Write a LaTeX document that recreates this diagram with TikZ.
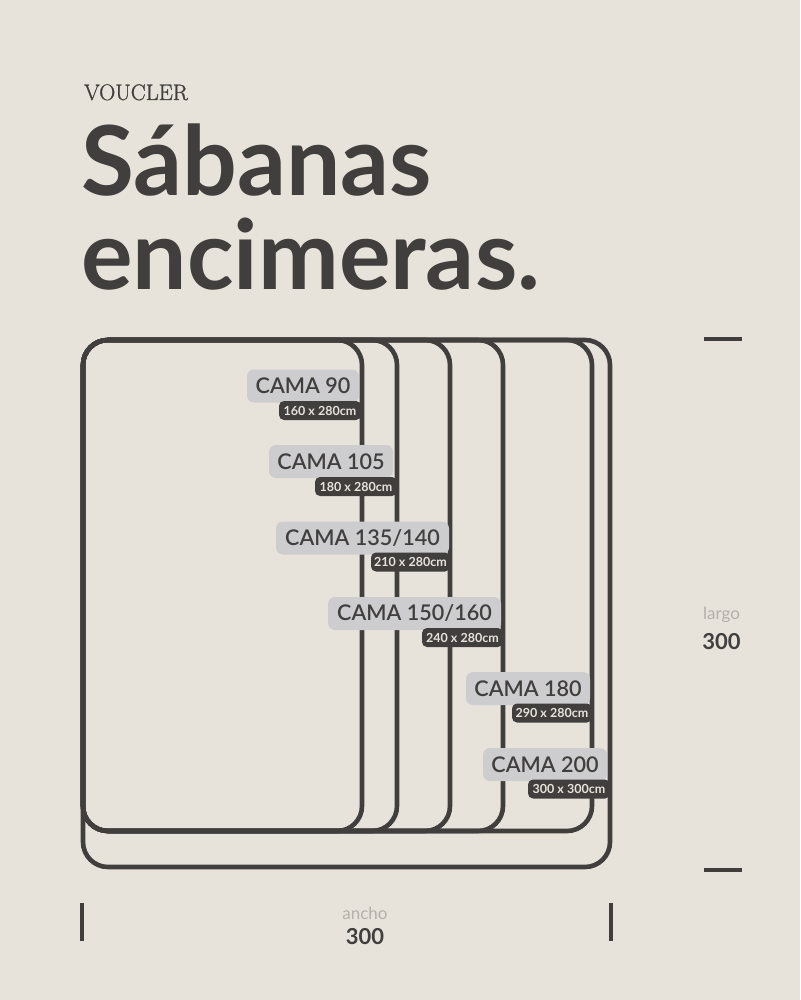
\documentclass[tikz,border=0pt]{standalone}
\usepackage{fontspec}
\setmainfont{Lato}
\newfontfamily\latosemi{Lato Semibold}
\newfontfamily\marcafont[FakeBold=1.1]{Latin Modern Roman}
\definecolor{fondo}{HTML}{E7E3DB}
\definecolor{tinta}{HTML}{403F3D}
\definecolor{etiqueta}{HTML}{CDCDCF}
\definecolor{suave}{HTML}{B3B0AA}
\tikzset{
	cama/.style={draw=tinta,line width=4.6pt,rounded corners=25pt},
	marca/.style={draw=tinta,line width=3.2pt},
	nombre/.style={fill=etiqueta,text=tinta,rounded corners=7pt,inner sep=0pt,minimum height=33pt,font=\fontsize{21.6}{22}\latosemi\selectfont},
	medida/.style={fill=tinta,text=fondo,rounded corners=5pt,inner sep=0pt,minimum height=19pt,font=\fontsize{12.5}{13}\selectfont\bfseries},
	titulo/.style={text=tinta,inner sep=0pt,anchor=base west,font=\fontsize{96.5}{96}\selectfont\bfseries},
	eje/.style={text=suave,inner sep=0pt,anchor=base,font=\fontsize{17}{17}\selectfont},
	valor/.style={text=tinta,inner sep=0pt,anchor=base,font=\fontsize{22}{22}\selectfont\bfseries}
}
\begin{document}
\begin{tikzpicture}[x=1pt,y=-1pt]
		\useasboundingbox[fill=fondo] (0,0) rectangle (800,1000);
		\node[text=tinta,inner sep=0pt,anchor=base west,font=\fontsize{22.4}{22}\marcafont\selectfont] (marcaname) at (84,100) {VOUCLER};
		\node[titulo] (sabanas) at (81,196) {Sábanas};
		\node[titulo] (encimeras) at (81,289) {encimeras.};
		\draw[cama] (83,340) rectangle (610,867);
		\draw[cama] (83,340) rectangle (592,831);
		\draw[cama] (83,340) rectangle (503,831);
		\draw[cama] (83,340) rectangle (450,831);
		\draw[cama] (83,340) rectangle (397,831);
		\draw[cama] (83,340) rectangle (362,831);
		\node[nombre,minimum width=112pt] (cama90) at (303,386) {CAMA 90};
		\node[medida,minimum width=82pt] (med90) at (320,410.5) {160 x 280cm};
		\node[nombre,minimum width=124pt] (cama105) at (331,461.5) {CAMA 105};
		\node[medida,minimum width=82pt] (med105) at (356,486.5) {180 x 280cm};
		\node[nombre,minimum width=173pt] (cama135) at (362.5,538) {CAMA 135/140};
		\node[medida,minimum width=79pt] (med135) at (410.5,562) {210 x 280cm};
		\node[nombre,minimum width=173pt] (cama150) at (414.5,613.5) {CAMA 150/160};
		\node[medida,minimum width=81pt] (med150) at (462.5,637.5) {240 x 280cm};
		\node[nombre,minimum width=124pt] (cama180) at (528,688.5) {CAMA 180};
		\node[medida,minimum width=80pt] (med180) at (552,713) {290 x 280cm};
		\node[nombre,minimum width=124pt] (cama200) at (545,764.5) {CAMA 200};
		\node[medida,minimum width=82pt] (med200) at (569,789) {300 x 300cm};
		\coordinate (largoa) at (704,339);
		\coordinate (largob) at (742,339);
		\coordinate (largoc) at (704,870);
		\coordinate (largod) at (742,870);
		\coordinate (anchoa) at (82,903);
		\coordinate (anchob) at (82,941);
		\coordinate (anchoc) at (611,903);
		\coordinate (anchod) at (611,941);
		\draw[marca] (largoa) -- (largob);
		\draw[marca] (largoc) -- (largod);
		\draw[marca] (anchoa) -- (anchob);
		\draw[marca] (anchoc) -- (anchod);
		\node[eje] (largo) at (721.5,619) {largo};
		\node[valor] (largov) at (721.5,649) {300};
		\node[eje] (ancho) at (365,919) {ancho};
		\node[valor] (anchov) at (365,944) {300};
\end{tikzpicture}
\end{document}
